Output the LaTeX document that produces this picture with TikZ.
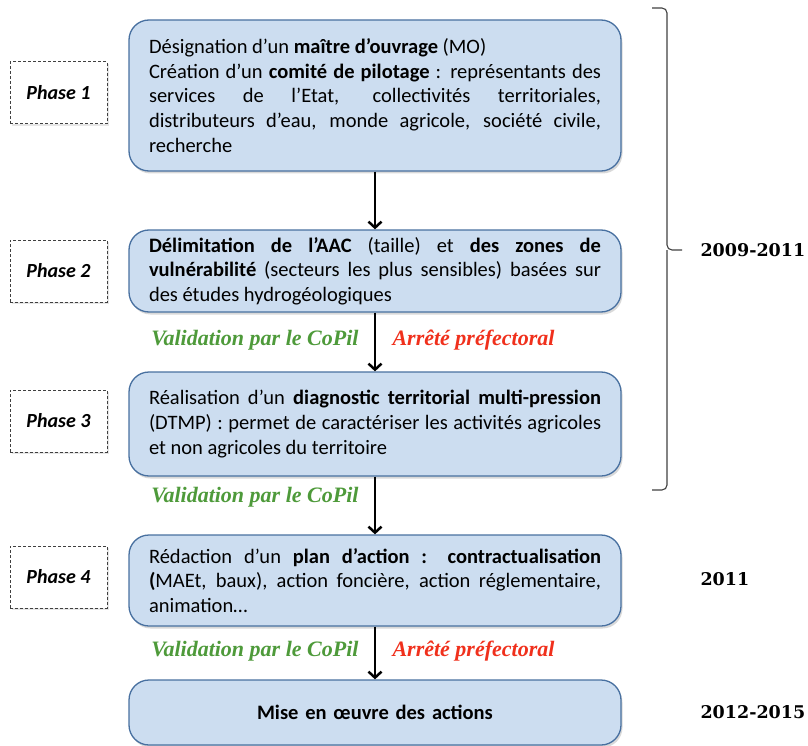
\documentclass[tikz,border=0pt]{standalone}
\usepackage{fontspec}
\setmainfont{Carlito}
\newfontfamily\labelfont{Liberation Serif}
\newfontfamily\yearfont{DejaVu Serif}
\usetikzlibrary{arrows.meta}
\usetikzlibrary{shadows}
\definecolor{boxfill}{RGB}{204,221,240}
\definecolor{boxline}{RGB}{72,112,160}
\definecolor{valgreen}{RGB}{78,154,58}
\definecolor{arrred}{RGB}{240,48,28}

\begin{document}
\begin{tikzpicture}[x=1pt,y=-1pt,
  stage/.style={draw=boxline, fill=boxfill, line width=1.3pt, rounded corners=20pt,
    text width=452pt, inner xsep=20pt, inner ysep=4pt, align=justify,
    font=\fontsize{20.5}{24.7}\selectfont,
    drop shadow={opacity=0.3, shadow xshift=1.5pt, shadow yshift=-2.5pt}},
  phase/.style={draw=black!75, dash pattern=on 3pt off 2pt, line width=1pt,
    minimum width=97pt, minimum height=62pt, fill=white,
    font=\fontsize{20}{22}\selectfont\bfseries\itshape,
    drop shadow={opacity=0.2, shadow xshift=1.5pt, shadow yshift=-2pt}},
  valid/.style={text=valgreen, font=\labelfont\fontsize{22}{24}\selectfont\bfseries\itshape},
  decree/.style={text=arrred, font=\labelfont\fontsize{22}{24}\selectfont\bfseries\itshape},
  years/.style={anchor=west, font=\yearfont\fontsize{17.5}{20}\selectfont\bfseries},
  flow/.style={line width=1.3pt, -{Straight Barb[length=6pt, width=13pt, line width=2.5pt]}},
  brace/.style={draw=black!75, line width=1.1pt, rounded corners=5pt}]
\useasboundingbox (0,0) rectangle (808,746);
\coordinate (s1) at (375,95.5);
\coordinate (s2) at (375,271);
\coordinate (s3) at (375,424);
\coordinate (s4) at (375,580.5);
\coordinate (s5) at (375,712.5);
\coordinate (bt) at (652,8);
\coordinate (bk) at (667,250);
\coordinate (bm) at (682,250);
\coordinate (bb) at (652,490);
% draws phase boxes
\node[phase] (p1) at (58.5,93) {Phase 1};
\node[phase] (p2) at (58.5,271) {Phase 2};
\node[phase] (p3) at (58.5,421) {Phase 3};
\node[phase] (p4) at (58.5,577) {Phase 4};
% draws steps
\node[stage, minimum height=151pt] (box1) at (s1) {Désignation d’un \textbf{maître d’ouvrage} (MO)\\
Création d’un \textbf{comité de pilotage}~: représentants des\linebreak
services de l’Etat, collectivités territoriales,\linebreak
distributeurs d’eau, monde agricole, société civile,\linebreak
recherche};
\node[stage, minimum height=82pt] (box2) at (s2) {\textbf{Délimitation de l’AAC} (taille) et \textbf{des zones de}\linebreak
\textbf{vulnérabilité} (secteurs les plus sensibles) basées sur\linebreak
des études hydrogéologiques};
\node[stage, minimum height=104pt] (box3) at (s3) {Réalisation d’un \textbf{diagnostic territorial \mbox{multi-pression}}\linebreak
(DTMP)~: permet de caractériser les activités agricoles\linebreak
et non agricoles du territoire};
\node[stage, minimum height=91pt] (box4) at (s4) {Rédaction d’un \textbf{plan d’action~: contractualisation}\linebreak
\textbf{(}MAEt, baux), action foncière, action réglementaire,\linebreak
animation…};
\node[stage, minimum height=65pt, align=center] (box5) at (s5) {\textbf{Mise en œuvre des actions}};
% draws arrows
\draw[flow] (box1) -- (box2);
\draw[flow] (box2) -- (box3);
\draw[flow] (box3) -- (box4);
\draw[flow] (box4) -- (box5);
% labels arrows
\node[valid, anchor=east] (v1) at (362,340) {Validation par le CoPil};
\node[decree, anchor=west] (d1) at (389,340) {Arrêté préfectoral};
\node[valid, anchor=east] (v2) at (362,497) {Validation par le CoPil};
\node[valid, anchor=east] (v3) at (362,651) {Validation par le CoPil};
\node[decree, anchor=west] (d3) at (389,651) {Arrêté préfectoral};
% draws brace and years
\draw[brace] (bt) -| (bk) -- (bm);
\draw[brace] (bb) -| (bk);
\node[years] (y1) at (697,250) {2009-2011};
\node[years] (y2) at (697,579) {2011};
\node[years] (y3) at (697,712) {2012-2015};
\end{tikzpicture}
\end{document}
